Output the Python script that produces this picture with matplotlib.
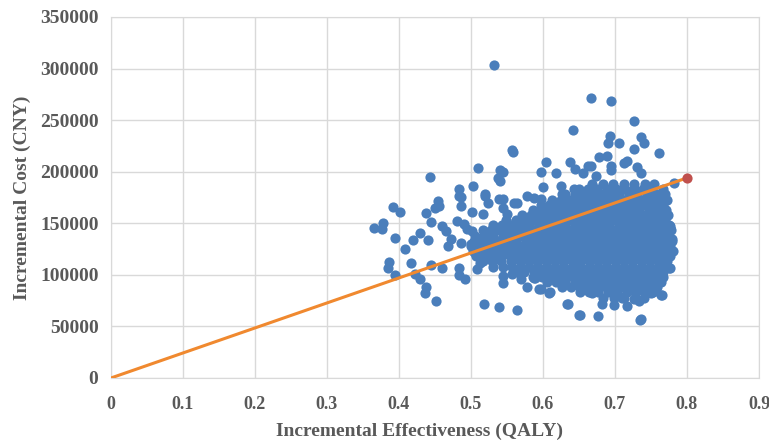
import numpy as np
import matplotlib.pyplot as plt

plt.rcParams['font.family'] = ['Liberation Serif', 'DejaVu Serif']

# scattered points around the cloud (effect in QALY, cost in CNY)
edge_x = [0.532, 0.666, 0.695, 0.727, 0.642, 0.693, 0.690, 0.705, 0.736, 0.740,
          0.726, 0.761, 0.557, 0.559, 0.510, 0.443, 0.540, 0.545, 0.540, 0.604,
          0.597, 0.618, 0.638, 0.644, 0.655, 0.663, 0.666, 0.678, 0.689, 0.673,
          0.694, 0.695, 0.713, 0.717, 0.730, 0.736, 0.782, 0.483, 0.486, 0.503,
          0.520, 0.537, 0.545, 0.600, 0.625, 0.627, 0.643, 0.391, 0.401, 0.365,
          0.378, 0.376, 0.394, 0.408, 0.416, 0.386, 0.385, 0.394, 0.422, 0.429,
          0.437, 0.436, 0.451, 0.454, 0.450, 0.456, 0.437, 0.445, 0.429, 0.419,
          0.440, 0.460, 0.465, 0.472, 0.468, 0.460, 0.445, 0.483, 0.483, 0.492,
          0.483, 0.486, 0.501, 0.481, 0.490, 0.495, 0.501, 0.486, 0.500, 0.509,
          0.517, 0.523, 0.520, 0.539, 0.544, 0.550, 0.560, 0.564, 0.578, 0.587,
          0.597, 0.505, 0.513, 0.509, 0.518, 0.539, 0.564, 0.545, 0.544, 0.557,
          0.569, 0.578, 0.588, 0.597, 0.610, 0.635, 0.651, 0.677, 0.682, 0.698,
          0.716, 0.736, 0.710, 0.727, 0.734, 0.750, 0.765, 0.776, 0.776, 0.779,
          0.776, 0.765, 0.760, 0.589, 0.595, 0.608, 0.633, 0.650, 0.775, 0.764,
          0.735, 0.668, 0.710, 0.776, 0.774, 0.769, 0.774, 0.757]
edge_y = [303500, 271500, 268300, 249200, 240800, 235000, 228000, 227500, 234000, 227500,
          222300, 217800, 221000, 219000, 203900, 194900, 202000, 200000, 191000, 209400,
          200000, 198400, 209400, 202900, 198400, 205500, 205500, 214600, 215200, 195800,
          205500, 201600, 208700, 210400, 204900, 199000, 188700, 183500, 175400, 186100,
          178600, 194200, 173100, 185400, 186100, 178600, 182900, 166000, 160900, 145600,
          149800, 144000, 135900, 124600, 111700, 112900, 106800, 99400, 101300, 95500,
          88400, 82500, 74500, 171500, 165000, 166700, 159600, 151100, 140100, 133300,
          133300, 147300, 142400, 134300, 127900, 106800, 110000, 106800, 100300, 95500,
          176300, 166700, 160900, 152100, 148900, 144000, 142400, 131100, 129500, 134300,
          158600, 169200, 176300, 173100, 165000, 158600, 169900, 169900, 176300, 174700,
          173100, 121400, 111700, 105200, 72200, 69000, 65700, 98700, 92200, 101300,
          95500, 88400, 97100, 86400, 83200, 72200, 61500, 59900, 72200, 71200,
          70200, 57300, 78700, 76700, 74500, 82500, 80200, 106800, 118100, 134300,
          147300, 155400, 163500, 97100, 86400, 82500, 71800, 61200, 106800, 80600,
          56300, 82500, 77700, 145600, 135900, 122300, 107800, 153400]

# dense core, one cost level per row with the effects read along it
core_cost = [188000, 183000, 178000, 173000, 168000, 163000, 158000, 153000,
             148000, 143000, 138000, 133000, 128000, 123000, 118000, 113000,
             108000, 103000, 98000, 93000, 88000, 83000, 78000]
core_effect = [
    [0.668, 0.683, 0.697, 0.712, 0.726, 0.741, 0.754],
    [0.650, 0.662, 0.675, 0.689, 0.701, 0.714, 0.727, 0.739, 0.752, 0.766],
    [0.631, 0.644, 0.656, 0.668, 0.681, 0.693, 0.706, 0.719, 0.731, 0.744, 0.757, 0.769],
    [0.613, 0.625, 0.638, 0.650, 0.663, 0.675, 0.687, 0.700, 0.712, 0.725, 0.737, 0.749,
     0.761, 0.772],
    [0.597, 0.609, 0.621, 0.633, 0.645, 0.657, 0.669, 0.681, 0.694, 0.706, 0.718, 0.731,
     0.743, 0.755, 0.767],
    [0.586, 0.598, 0.611, 0.623, 0.636, 0.648, 0.660, 0.673, 0.685, 0.697, 0.710, 0.722,
     0.734, 0.747, 0.759, 0.771],
    [0.571, 0.583, 0.596, 0.608, 0.620, 0.632, 0.644, 0.656, 0.668, 0.680, 0.692, 0.704,
     0.716, 0.728, 0.740, 0.752, 0.764, 0.773],
    [0.549, 0.562, 0.575, 0.587, 0.600, 0.613, 0.625, 0.638, 0.650, 0.662, 0.674, 0.686,
     0.698, 0.710, 0.722, 0.734, 0.746, 0.758, 0.770],
    [0.531, 0.543, 0.556, 0.568, 0.581, 0.594, 0.606, 0.619, 0.631, 0.644, 0.656, 0.668,
     0.680, 0.692, 0.705, 0.717, 0.729, 0.741, 0.753, 0.765, 0.775],
    [0.516, 0.528, 0.540, 0.552, 0.564, 0.576, 0.588, 0.600, 0.612, 0.624, 0.636, 0.648,
     0.660, 0.672, 0.684, 0.696, 0.708, 0.720, 0.732, 0.744, 0.756, 0.768, 0.778],
    [0.506, 0.518, 0.531, 0.544, 0.557, 0.570, 0.582, 0.594, 0.606, 0.618, 0.630, 0.642,
     0.654, 0.666, 0.678, 0.690, 0.702, 0.714, 0.726, 0.738, 0.750, 0.762, 0.774],
    [0.504, 0.515, 0.526, 0.538, 0.550, 0.563, 0.576, 0.588, 0.600, 0.612, 0.624, 0.636,
     0.648, 0.660, 0.672, 0.684, 0.696, 0.708, 0.720, 0.732, 0.744, 0.756, 0.768, 0.779],
    [0.500, 0.512, 0.524, 0.536, 0.548, 0.560, 0.572, 0.584, 0.596, 0.608, 0.620, 0.632,
     0.644, 0.656, 0.668, 0.680, 0.692, 0.704, 0.716, 0.728, 0.740, 0.752, 0.764, 0.776],
    [0.503, 0.516, 0.529, 0.542, 0.554, 0.566, 0.578, 0.590, 0.602, 0.614, 0.626, 0.638,
     0.650, 0.662, 0.674, 0.686, 0.698, 0.710, 0.722, 0.734, 0.746, 0.758, 0.770, 0.780],
    [0.507, 0.519, 0.531, 0.543, 0.555, 0.567, 0.579, 0.591, 0.603, 0.615, 0.627, 0.639,
     0.651, 0.663, 0.675, 0.687, 0.699, 0.711, 0.723, 0.735, 0.747, 0.759, 0.771],
    [0.516, 0.529, 0.542, 0.555, 0.568, 0.580, 0.592, 0.604, 0.616, 0.628, 0.640, 0.652,
     0.664, 0.676, 0.688, 0.700, 0.712, 0.724, 0.736, 0.748, 0.760, 0.772],
    [0.531, 0.544, 0.557, 0.569, 0.581, 0.593, 0.605, 0.617, 0.629, 0.641, 0.653, 0.665,
     0.677, 0.689, 0.701, 0.713, 0.725, 0.737, 0.749, 0.761, 0.771],
    [0.561, 0.574, 0.587, 0.599, 0.611, 0.623, 0.635, 0.647, 0.659, 0.671, 0.683, 0.695,
     0.707, 0.719, 0.731, 0.743, 0.755, 0.767],
    [0.586, 0.598, 0.610, 0.622, 0.634, 0.646, 0.658, 0.670, 0.682, 0.694, 0.706, 0.718,
     0.730, 0.742, 0.754, 0.766],
    [0.606, 0.618, 0.631, 0.644, 0.656, 0.668, 0.680, 0.692, 0.704, 0.716, 0.728, 0.740,
     0.752, 0.764],
    [0.626, 0.639, 0.652, 0.664, 0.676, 0.688, 0.700, 0.712, 0.724, 0.736, 0.748, 0.759],
    [0.651, 0.664, 0.677, 0.690, 0.703, 0.716, 0.729, 0.742, 0.753],
    [0.683, 0.698, 0.713, 0.728, 0.740],
]

# base-case point and the threshold line through it
base_x, base_y = 0.8, 194000
wtp_x = [0, 0.8]
wtp_y = [0, 194000]

xs = list(edge_x)
ys = list(edge_y)
for c, row in zip(core_cost, core_effect):
    xs += row
    ys += [c] * len(row)

fig = plt.figure(figsize=(7.69, 4.45), dpi=100)
ax = fig.add_axes([0.1443, 0.1506, 0.8427, 0.8112])

ax.scatter(xs, ys, s=54, color='#4a7ebb', linewidths=0, zorder=3)
ax.plot(wtp_x, wtp_y, color='#f0892f', lw=2.2, zorder=4)
ax.scatter([base_x], [base_y], s=54, color='#c0504d', linewidths=0, zorder=5)

ax.set_xlim(0, 0.9)
ax.set_ylim(0, 350000)
ax.set_xticks(np.arange(0, 0.91, 0.1))
ax.set_xticklabels(['0', '0.1', '0.2', '0.3', '0.4', '0.5', '0.6', '0.7', '0.8', '0.9'])
ax.set_yticks(np.arange(0, 350001, 50000))
ax.set_yticklabels([str(v) for v in range(0, 350001, 50000)])
ax.grid(True, color='#d9d9d9', lw=1.0)
ax.set_axisbelow(True)
for s in ax.spines.values():
    s.set_color('#d9d9d9')
ax.tick_params(length=0, labelsize=14, labelcolor='#595959')
ax.tick_params(axis='x', pad=13, labelsize=13)
ax.tick_params(axis='y', pad=9)
for lab in ax.get_xticklabels() + ax.get_yticklabels():
    lab.set_fontweight('bold')

ax.set_xlabel('Incremental Effectiveness (QALY)', fontsize=14, fontweight='bold',
              color='#595959')
ax.set_ylabel('Incremental Cost (CNY)', fontsize=14, fontweight='bold',
              color='#595959')
ax.xaxis.set_label_coords(0.476, -0.125)
ax.yaxis.set_label_coords(-0.123, 0.5)

fig.savefig('out.png', dpi=100)
